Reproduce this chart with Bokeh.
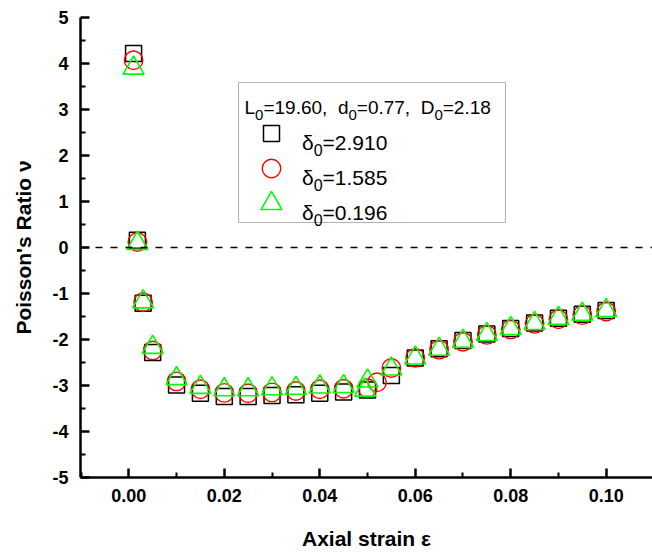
from bokeh.plotting import figure
from bokeh.models import Span, BoxAnnotation, FixedTicker, Range1d
from bokeh.core.properties import value
from bokeh.embed import file_html
from bokeh.resources import INLINE

# ---------------- data ----------------
strain_sq = [0.001, 0.0018, 0.003, 0.005, 0.010, 0.015, 0.020, 0.025, 0.030, 0.035, 0.040,
             0.045, 0.050, 0.055, 0.060, 0.065, 0.070, 0.075, 0.080, 0.085, 0.090, 0.095, 0.100]
nu_sq = [4.22, 0.16, -1.21, -2.28, -2.99, -3.17, -3.24, -3.24, -3.22, -3.20, -3.17,
         -3.14, -3.10, -2.78, -2.40, -2.20, -2.02, -1.88, -1.76, -1.64, -1.54, -1.45, -1.37]

strain_ci = [0.001, 0.0018, 0.003, 0.005, 0.010, 0.015, 0.020, 0.025, 0.030, 0.035, 0.040,
             0.045, 0.050, 0.052, 0.055, 0.060, 0.065, 0.070, 0.075, 0.080, 0.085, 0.090, 0.095, 0.100]
nu_ci = [4.07, 0.12, -1.19, -2.24, -2.91, -3.08, -3.16, -3.17, -3.15, -3.12, -3.08,
         -3.07, -3.06, -2.93, -2.62, -2.40, -2.22, -2.05, -1.90, -1.78, -1.66, -1.56, -1.47, -1.39]

strain_tr = [0.001, 0.0018, 0.003, 0.005, 0.010, 0.015, 0.020, 0.025, 0.030, 0.035, 0.040,
             0.045, 0.050, 0.0495, 0.055, 0.060, 0.065, 0.070, 0.075, 0.080, 0.085, 0.090, 0.095, 0.100]
nu_tr = [3.90, 0.09, -1.18, -2.17, -2.85, -3.04, -3.09, -3.09, -3.07, -3.06, -3.03,
         -3.02, -2.90, -3.10, -2.64, -2.40, -2.21, -2.04, -1.89, -1.76, -1.65, -1.54, -1.45, -1.37]

delta_labels = ["2.910", "1.585", "0.196"]
L0, d0, D0 = "19.60", "0.77", "2.18"

x_ticks = [0.0, 0.02, 0.04, 0.06, 0.08, 0.10]
x_tick_labels = ["0.00", "0.02", "0.04", "0.06", "0.08", "0.10"]
x_minor = [-0.01, 0.01, 0.03, 0.05, 0.07, 0.09]
y_ticks = [-5, -4, -3, -2, -1, 0, 1, 2, 3, 4, 5]
y_tick_labels = ["-5", "-4", "-3", "-2", "-1", "0", "1", "2", "3", "4", "5"]
y_minor = [-4.5, -3.5, -2.5, -1.5, -0.5, 0.5, 1.5, 2.5, 3.5, 4.5]

# ---------------- layout ----------------
W, H = 652, 557
B_LEFT, B_TOP, B_BOTTOM, B_RIGHT = 80, 17, 80, 0
FW, FH = W - B_LEFT - B_RIGHT, H - B_TOP - B_BOTTOM
X0, X1 = -0.01012, 0.1097
Y0, Y1 = -5.0, 5.0
FONT = "Liberation Sans"


def px2x(px):
    return X0 + (px - B_LEFT) / FW * (X1 - X0)


def py2y(py):
    return Y1 - (py - B_TOP) / FH * (Y1 - Y0)


p = figure(width=W, height=H, x_range=Range1d(X0, X1), y_range=Range1d(Y0, Y1),
           output_backend="svg", toolbar_location=None,
           min_border_left=B_LEFT, min_border_right=B_RIGHT,
           min_border_top=B_TOP, min_border_bottom=B_BOTTOM)
p.outline_line_color = None
p.grid.visible = False
p.background_fill_color = "white"
p.border_fill_color = "white"

# axes
p.xaxis.ticker = FixedTicker(ticks=x_ticks, minor_ticks=x_minor)
p.yaxis.ticker = FixedTicker(ticks=y_ticks, minor_ticks=y_minor)
p.xaxis.major_label_overrides = {t: l for t, l in zip(x_ticks, x_tick_labels)}
p.yaxis.major_label_overrides = {t: l for t, l in zip(y_ticks, y_tick_labels)}
for ax in (p.xaxis[0], p.yaxis[0]):
    ax.axis_line_width = 2.5
    ax.axis_line_color = "black"
    ax.major_tick_line_width = 2.5
    ax.minor_tick_line_width = 2
    ax.major_tick_line_color = "black"
    ax.minor_tick_line_color = "black"
    ax.major_tick_in = 9
    ax.major_tick_out = 0
    ax.minor_tick_in = 5
    ax.minor_tick_out = 0
    ax.major_label_text_font = FONT
    ax.major_label_text_font_style = "bold"
    ax.major_label_text_font_size = "18px"
    ax.major_label_text_color = "black"
    ax.axis_label_text_font = FONT
    ax.axis_label_text_font_style = "bold"
    ax.axis_label_text_font_size = "21px"
    ax.axis_label_text_color = "black"

p.xaxis.axis_label = "Axial strain ε"
p.xaxis.major_label_standoff = 11
p.xaxis.axis_label_standoff = 22
p.yaxis.axis_label = "Poisson's Ratio ν"
p.yaxis.major_label_standoff = 12
p.yaxis.axis_label_standoff = 14

# zero line
p.add_layout(Span(location=0, dimension="width", line_color="black",
                  line_width=1.5, line_dash="7 8"))

# data series
p.scatter(strain_sq, nu_sq, marker="square", size=16, fill_color=None,
          line_color="black", line_width=1.5)
p.scatter(strain_ci, nu_ci, marker="circle", size=18.5, fill_color=None,
          line_color="#ff0000", line_width=1.4)
p.scatter(strain_tr, nu_tr, marker="triangle", size=21, fill_color=None,
          line_color="#00ff00", line_width=1.6)

# ---------------- legend (drawn by hand) ----------------
p.add_layout(BoxAnnotation(left=px2x(238), right=px2x(505), top=py2y(82), bottom=py2y(222),
                           fill_alpha=0, line_color="black", line_width=1))

WID = {**{c: 0.556 for c in "0123456789"}, ".": 0.278, ",": 0.278, " ": 0.278,
       "=": 0.584, "L": 0.556, "d": 0.556, "D": 0.722, "δ": 0.556}


def tw(s, size):
    return sum(WID.get(c, 0.556) for c in s) * size


def rich(segments, x_px, base_px, size, sub_size, sub_drop):
    mx, my, mt, sx, sy, st = [], [], [], [], [], []
    cx = x_px
    for txt, sub in segments:
        if sub:
            sx.append(px2x(cx)); sy.append(py2y(base_px + sub_drop)); st.append(txt)
            cx += tw(txt, sub_size)
        else:
            stripped = txt.lstrip(" ")
            cx += tw(txt[:len(txt) - len(stripped)], size)
            mx.append(px2x(cx)); my.append(py2y(base_px)); mt.append(stripped)
            cx += tw(stripped, size)
    p.text(mx, my, text=mt, text_font=value(FONT), text_font_size=f"{size}px",
           text_baseline="alphabetic", text_align="left", text_color="black")
    p.text(sx, sy, text=st, text_font=value(FONT), text_font_size=f"{sub_size}px",
           text_baseline="alphabetic", text_align="left", text_color="black")


rich([("L", False), ("0", True), ("=" + L0 + ",", False), ("  d", False), ("0", True),
      ("=" + d0 + ",", False), ("  D", False), ("0", True), ("=" + D0, False)],
     244, 107, 19, 15, 7)

row_y = [133, 168, 203]
for lab, ry in zip(delta_labels, row_y):
    rich([("δ", False), ("0", True), ("=" + lab, False)], 301.5, ry + 8.5, 21, 16, 8)

p.scatter([px2x(271)], [py2y(row_y[0])], marker="square", size=16, fill_color=None,
          line_color="black", line_width=1.5)
p.scatter([px2x(271)], [py2y(row_y[1])], marker="circle", size=18.5, fill_color=None,
          line_color="#ff0000", line_width=1.4)
p.scatter([px2x(271)], [py2y(row_y[2])], marker="triangle", size=21, fill_color=None,
          line_color="#00ff00", line_width=1.6)

open("out.html", "w").write(file_html(p, INLINE))
